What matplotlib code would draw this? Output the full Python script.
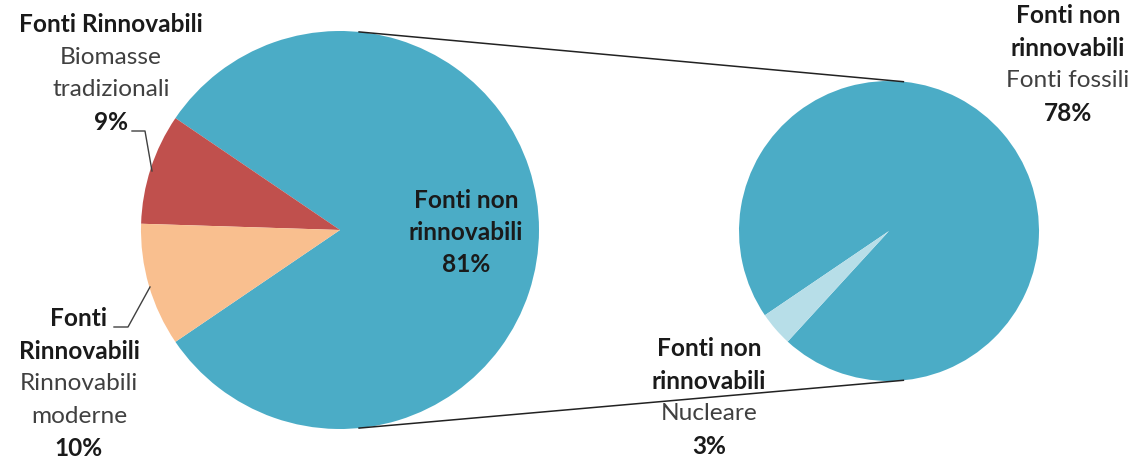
import numpy as np
import matplotlib.pyplot as plt

plt.rcParams['font.family'] = ['Lato', 'DejaVu Sans']

# data
main_labels = ['Fonti non rinnovabili', 'Biomasse tradizionali', 'Rinnovabili moderne']
main_values = [81, 9, 10]
main_colors = ['#4BACC6', '#C0504D', '#F9BF8F']

sub_labels = ['Fonti fossili', 'Nucleare']
sub_values = [78, 3]
sub_colors = ['#4BACC6', '#B7DEE8']

W, H = 1139, 465
def Y(y):
    return H - y

fig = plt.figure(figsize=(W / 100, H / 100), dpi=100)
ax = fig.add_axes([0, 0, 1, 1])

# main pie
c1 = (340, Y(230))
r1 = 199
ax.pie(main_values, colors=main_colors, startangle=214.2, counterclock=True,
       center=c1, radius=r1, frame=True, wedgeprops=dict(linewidth=0))

# secondary pie (breakdown of the 81%), nuclear wedge ends at 227.5 deg
c2 = (889, Y(231))
r2 = 150
ax.pie(sub_values, colors=sub_colors, startangle=227.5, counterclock=True,
       center=c2, radius=r2, frame=True, wedgeprops=dict(linewidth=0))

ax.set_xlim(0, W)
ax.set_ylim(0, H)
ax.set_aspect('equal')
ax.axis('off')

# connector lines
a = np.deg2rad(84.5)
for s in (1, -1):
    p1 = (c1[0] + r1 * np.cos(a), c1[1] + s * r1 * np.sin(a))
    p2 = (c2[0] + r2 * np.cos(a), c2[1] + s * r2 * np.sin(a))
    ax.plot([p1[0], p2[0]], [p1[1], p2[1]], color='#222222', lw=1.1)

BOLD = '#1a1a1a'
NORM = '#404040'
FS = 17.6

def label(x, y0, lines, dy=32.5):
    for i, (txt, bold) in enumerate(lines):
        ax.text(x, Y(y0 + i * dy), txt, ha='center', va='center', fontsize=FS,
                fontweight='bold' if bold else 'normal',
                color=BOLD if bold else NORM)

label(111, 25, [('Fonti Rinnovabili', True), ('Biomasse', False),
                ('tradizionali', False), ('%d%%' % main_values[1], True)])
label(79, 319, [('Fonti', True), ('Rinnovabili', True), ('Rinnovabili', False),
                ('moderne', False), ('%d%%' % main_values[2], True)])
label(466, 201, [('Fonti non', True), ('rinnovabili', True),
                 ('%d%%' % main_values[0], True)], dy=32)
label(1068, 16, [('Fonti non', True), ('rinnovabili', True),
                 ('Fonti fossili', False), ('%d%%' % sub_values[0], True)])
label(709, 349, [('Fonti non', True), ('rinnovabili', True),
                 ('Nucleare', False), ('%d%%' % sub_values[1], True)])

# leader lines
ax.plot([132, 145, 152], [Y(131), Y(131), Y(171)], color='#404040', lw=1)
ax.plot([114, 128, 150], [Y(327), Y(327), Y(287)], color='#404040', lw=1)

fig.savefig('out.png', dpi=100, facecolor='white')
